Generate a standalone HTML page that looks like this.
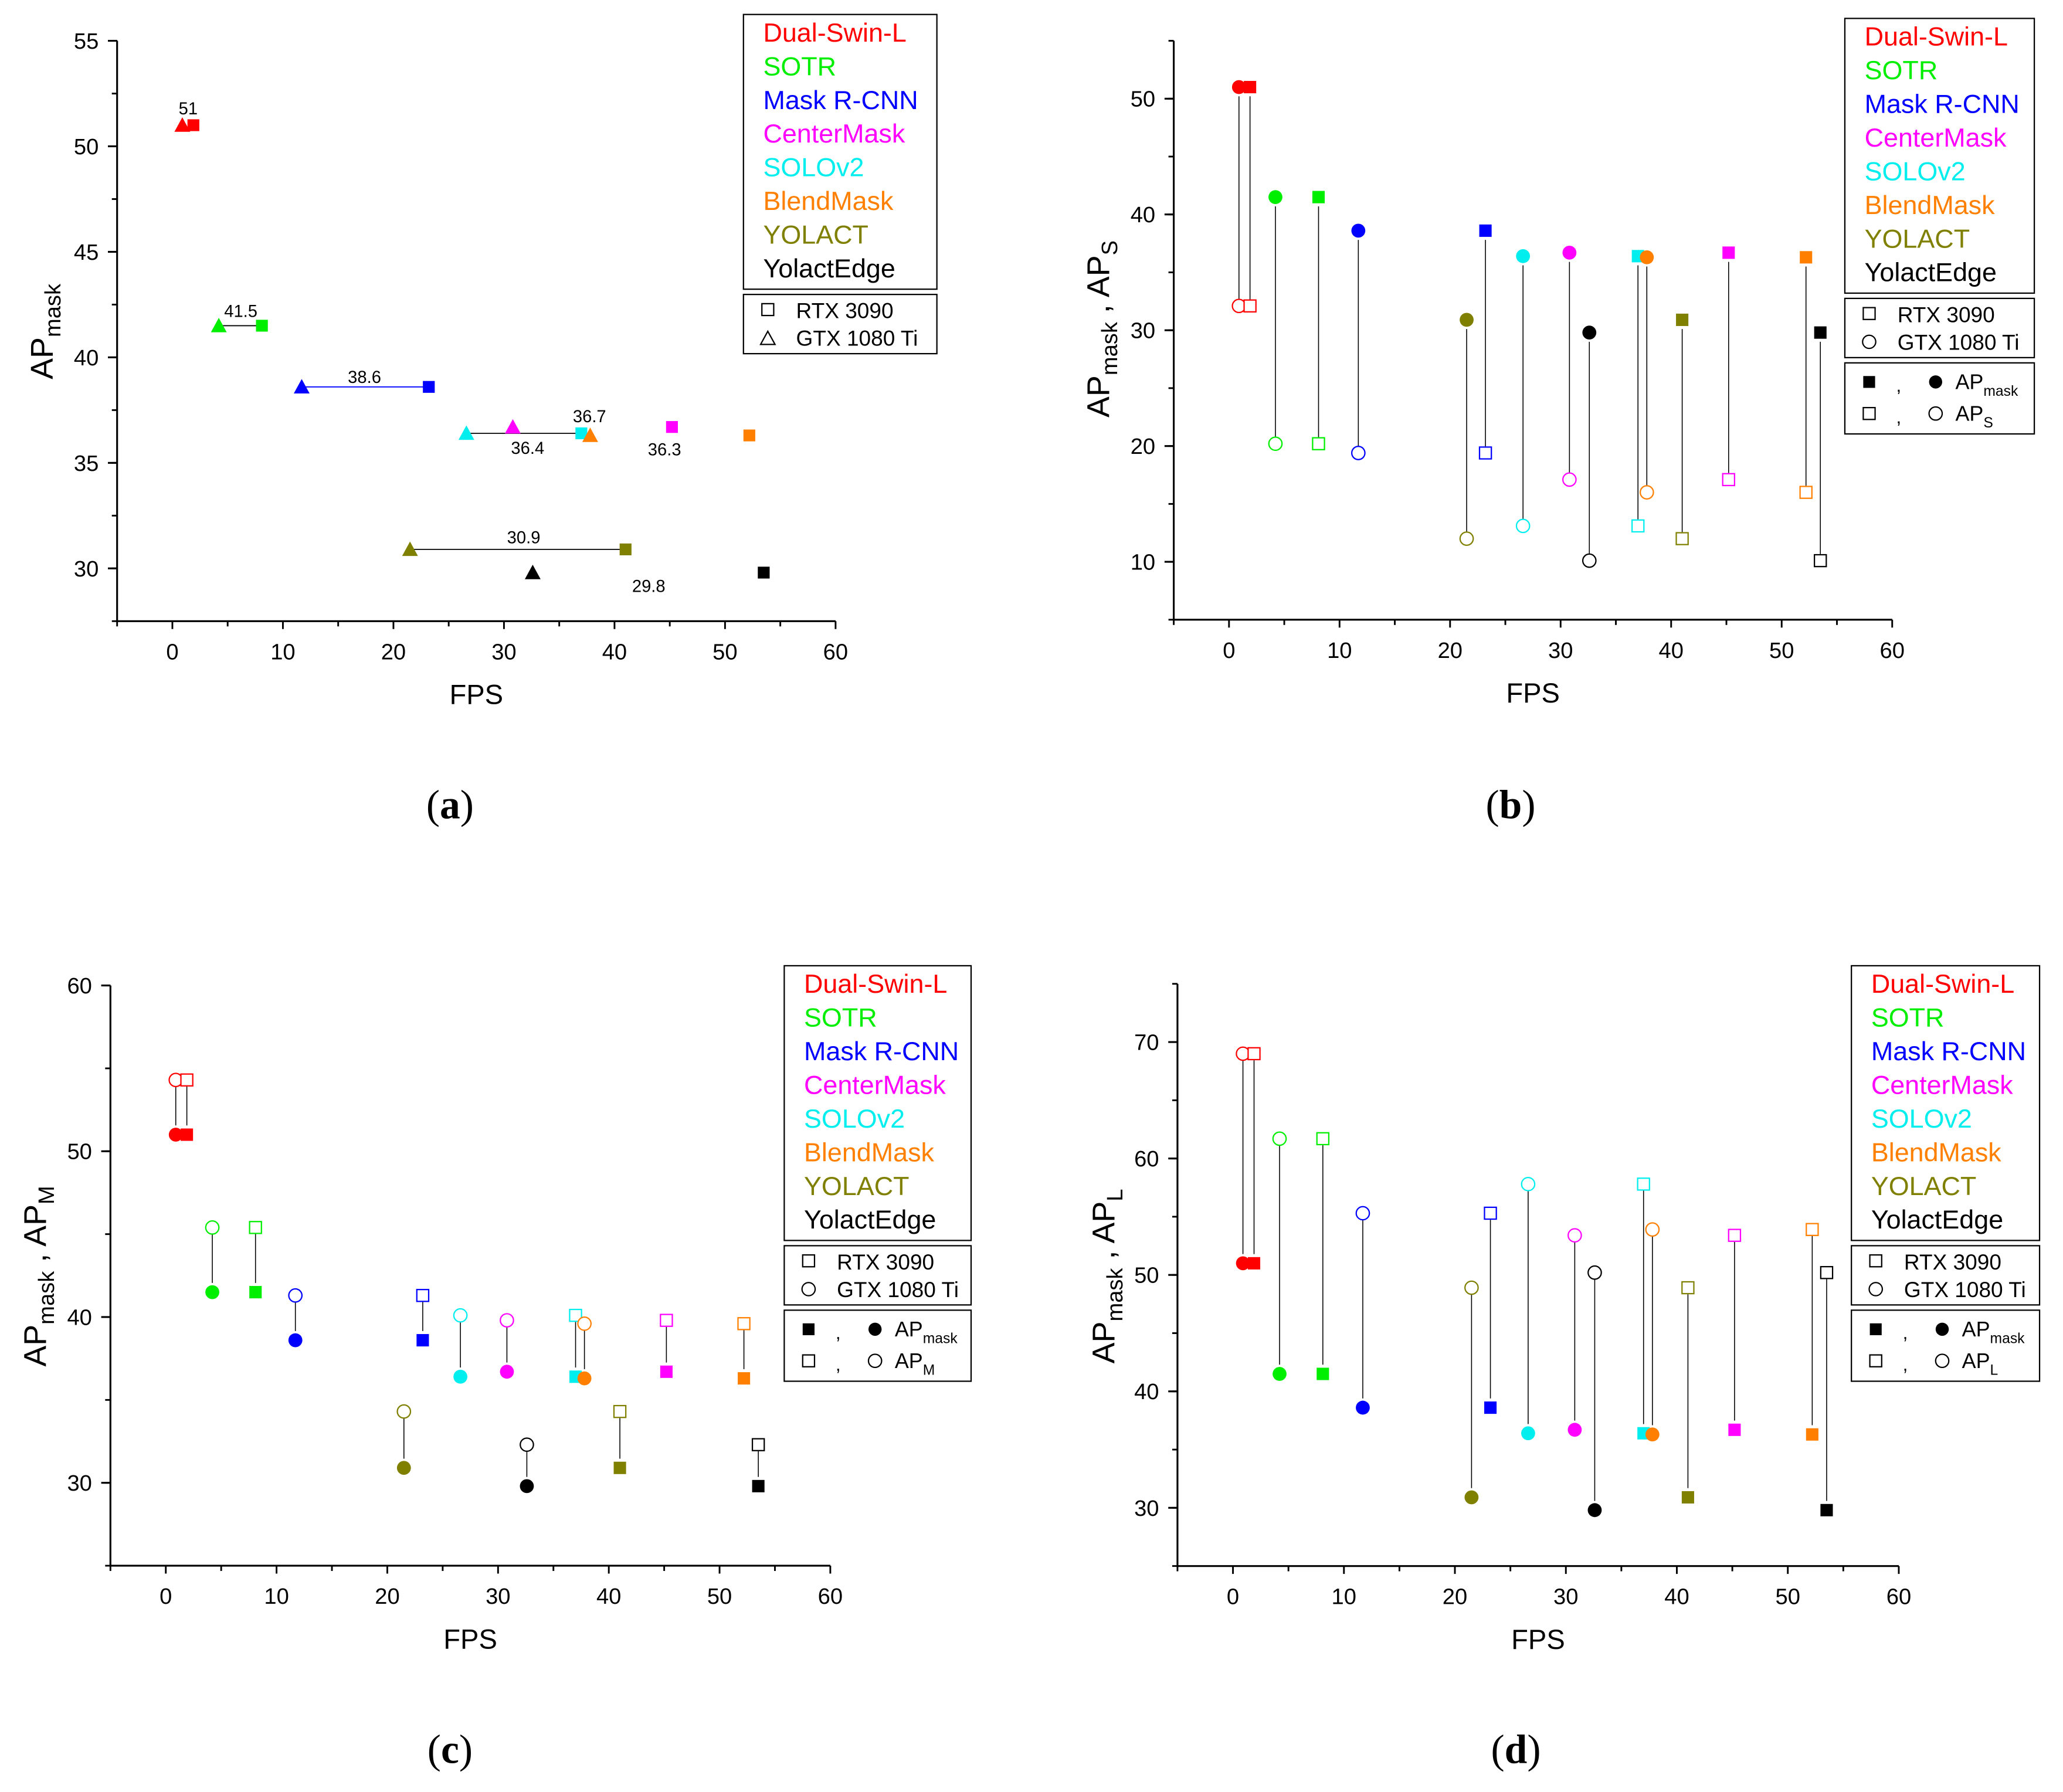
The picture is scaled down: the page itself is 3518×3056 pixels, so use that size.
<!DOCTYPE html>
<html><head><meta charset="utf-8"><style>
html,body{margin:0;padding:0;background:#fff}
svg{display:block}
text{font-family:"Liberation Sans",sans-serif}
text.cap{font-family:"Liberation Serif",serif}
</style></head><body>
<svg id="fig" xmlns="http://www.w3.org/2000/svg" width="3518" height="3056" viewBox="0 0 1567.8 1362" preserveAspectRatio="none"></svg>
<script>
const models = ["Dual-Swin-L","SOTR","Mask R-CNN","CenterMask","SOLOv2","BlendMask","YOLACT","YolactEdge"];
const colors = ["#ff0000","#00ee00","#0000ff","#ff00ff","#00eeee","#ff8000","#808000","#000000"];
const fps3090 = [1.9, 8.1, 23.2, 45.2, 37.0, 52.2, 41.0, 53.5];
const fps1080 = [0.9, 4.2, 11.7, 30.8, 26.6, 37.8, 21.5, 32.6];
const apMask = [51, 41.5, 38.6, 36.7, 36.4, 36.3, 30.9, 29.8];
const apS = [32.1, 20.2, 19.4, 17.1, 13.1, 16.0, 12.0, 10.1];
const apM = [54.3, 45.4, 41.3, 39.8, 40.1, 39.6, 34.3, 32.3];
const apL = [69.0, 61.7, 55.3, 53.4, 57.8, 53.9, 48.9, 50.2];
const xTicks = [0,10,20,30,40,50,60];
const yTicksA = [30,35,40,45,50,55];
const yTicksB = [10,20,30,40,50];
const yTicksC = [30,40,50,60];
const yTicksD = [30,40,50,60,70];
const connectedA = [1,2,4,6];

const NS="http://www.w3.org/2000/svg";
const svg=document.getElementById('fig');
function el(tag,attrs,parent,txt){const e=document.createElementNS(NS,tag);for(const k in attrs)e.setAttribute(k,attrs[k]);if(txt!==undefined)e.textContent=txt;(parent||svg).appendChild(e);return e;}

function axes(p){
  const g=el('g',{});
  
  
  const X=v=>p.x0+(v-0)*(p.x60-p.x0)/60;
  const Y=v=>p.yA+(v-p.vA)*(p.yB-p.yA)/(p.vB-p.vA);
  p.X=X;p.Y=Y;
  const left=X(-5),right=X(60),top=Y(p.ymax),bot=Y(p.ymin);
  const ax=el('path',{d:`M${left} ${top}V${bot}H${right}`,stroke:'#000','stroke-width':1.4,fill:'none'},g);
  
  for(let v=-5;v<=60;v+=5){const big=v%10===0;el('line',{x1:X(v),x2:X(v),y1:bot,y2:bot+(big?6:4),stroke:'#000','stroke-width':1.3},g);}
  xTicks.forEach(v=>{const t=el('text',{x:X(v),y:bot+29,'font-size':17,'text-anchor':'middle'},g,String(v));});
  for(let v=p.ymin;v<=p.ymax+0.001;v+=p.minor){el('line',{x1:left-4,x2:left,y1:Y(v),y2:Y(v),stroke:'#000','stroke-width':1.3},g);}
  p.yt.forEach(v=>{el('line',{x1:left-7,x2:left,y1:Y(v),y2:Y(v),stroke:'#000','stroke-width':1.4},g);const t=el('text',{x:left-14,y:Y(v)+6,'font-size':17,'text-anchor':'end'},g,String(v));});
  const xt=el('text',{x:X(27.5),y:bot+63,'font-size':21,'text-anchor':'middle'},g,'FPS');
  
  const yt=el('text',{x:0,y:0,'font-size':24,'text-anchor':'middle',transform:`translate(${p.ytx},${p.yty}) rotate(-90)`},g);
  
  el('tspan',{},yt,'AP');el('tspan',{'font-size':17,dy:6},yt,'mask');
  if(p.sub){el('tspan',{dy:-6},yt,' , AP');el('tspan',{'font-size':17,dy:6},yt,p.sub);}
  const cap=el('text',{x:p.capx,y:p.capy,'font-size':31,'text-anchor':'middle','class':'cap'},g);
  
  el('tspan',{},cap,'(');el('tspan',{'font-weight':'bold'},cap,p.letter);el('tspan',{},cap,')');
  return g;
}

function legend(x,y,w,rowH,extra){
  const g=el('g',{});
  
  el('rect',{x:x,y:y,width:w,height:rowH*8+4,fill:'#fff',stroke:'#000','stroke-width':1},g);
  models.forEach((m,i)=>{const t=el('text',{x:x+15,y:y+rowH*(i+1)-5,'font-size':20,fill:colors[i]},g,m);});
  const y2=y+rowH*8+8;
  el('rect',{x:x,y:y2,width:w,height:45,fill:'#fff',stroke:'#000','stroke-width':1},g);
  el('rect',{x:x+14,y:y2+7,width:9,height:9,fill:'none',stroke:'#000','stroke-width':1},g);
  const t1=el('text',{x:x+40,y:y2+18,'font-size':16.5},g,'RTX 3090');
  if(extra==='tri') el('path',{d:`M${x+13} ${y2+38}l5.5 -10l5.5 10z`,fill:'none',stroke:'#000','stroke-width':1},g);
  else el('circle',{cx:x+18.5,cy:y2+33,r:5,fill:'none',stroke:'#000','stroke-width':1},g);
  const t2=el('text',{x:x+40,y:y2+39,'font-size':16.5},g,'GTX 1080 Ti');
  if(extra!=='tri'){
    const y3=y2+49;
    el('rect',{x:x,y:y3,width:w,height:54,fill:'#fff',stroke:'#000','stroke-width':1},g);
    el('rect',{x:x+14,y:y3+10,width:9,height:9,fill:'#000'},g);
    el('text',{x:x+39,y:y3+22,'font-size':14},g,',');
    el('circle',{cx:x+69,cy:y3+14.5,r:5,fill:'#000'},g);
    const a=el('text',{x:x+84,y:y3+20,'font-size':16},g);
    el('tspan',{},a,'AP');el('tspan',{'font-size':11,dy:5},a,'mask');
    el('rect',{x:x+14,y:y3+34,width:9,height:9,fill:'none',stroke:'#000','stroke-width':1},g);
    el('text',{x:x+39,y:y3+46,'font-size':14},g,',');
    el('circle',{cx:x+69,cy:y3+38.5,r:5,fill:'none',stroke:'#000','stroke-width':1},g);
    const b=el('text',{x:x+84,y:y3+44,'font-size':16},g);
    el('tspan',{},b,'AP');el('tspan',{'font-size':11,dy:5},b,extra);
  }
}

// Panel A
const pa={name:'panel-a',x0:131,x60:635,yA:432,vA:30,yB:31,vB:55,ymin:27.5,ymax:55,minor:2.5,yt:yTicksA,ytx:40,yty:252,capx:342,capy:622,letter:'a'};
const ga=axes(pa);
connectedA.forEach(i=>{const l=el('line',{x1:pa.X(fps1080[i]),x2:pa.X(fps3090[i]),y1:pa.Y(apMask[i]),y2:pa.Y(apMask[i]),stroke:i===2?colors[i]:'#000','stroke-width':0.8},ga);});
models.forEach((m,i)=>{
  const tx=pa.X(fps1080[i]),ty=pa.Y(apMask[i]);
  const t=el('path',{d:`M${tx-6} ${ty+5}L${tx} ${ty-6}L${tx+6} ${ty+5}Z`,fill:colors[i]},ga);
  
  const sx=pa.X(fps3090[i]),sy=pa.Y(apMask[i]);
  const s=el('rect',{x:sx-4.5,y:sy-4.5,width:9,height:9,fill:colors[i]},ga);
  
});
const labelPos=[[143,87],[183,241],[277,291],[401,345],[448,321],[505,346],[398,413],[493,450]];
const labelIdx=[0,1,2,4,3,5,6,7];
labelIdx.forEach((mi,k)=>{const t=el('text',{x:labelPos[k][0],y:labelPos[k][1],'font-size':13,'text-anchor':'middle'},ga,String(apMask[mi]));});
legend(565,11,147,25.6,'tri');

function stemPanel(p,vals,sub,lx,ly){
  p.sub=sub;
  const g=axes(p);
  models.forEach((m,i)=>{
    [[fps1080[i],'c'],[fps3090[i],'s']].forEach(([f,k])=>{
      const x=p.X(f),ym=p.Y(apMask[i]),yv=p.Y(vals[i]);
      const dir=yv>ym?1:-1;
      const ln=el('line',{x1:x,x2:x,y1:ym+dir*7,y2:yv-dir*5,stroke:'#000','stroke-width':0.7},g);
      
      let a,b;
      if(k==='c'){a=el('circle',{cx:x,cy:ym,r:5.3,fill:colors[i]},g);b=el('circle',{cx:x,cy:yv,r:5,fill:'#fff',stroke:colors[i],'stroke-width':1},g);}
      else{a=el('rect',{x:x-4.7,y:ym-4.7,width:9.4,height:9.4,fill:colors[i]},g);b=el('rect',{x:x-4.5,y:yv-4.5,width:9,height:9,fill:'#fff',stroke:colors[i],'stroke-width':1},g);}
      
      
    });
  });
  legend(lx,ly,p.lw,25.6,sub);
}
stemPanel({name:'panel-b',x0:934,x60:1438,yA:427,vA:10,yB:75,vB:50,ymin:5,ymax:55,minor:5,yt:yTicksB,ytx:843,yty:250,capx:1148,capy:622,letter:'b',lw:144},apS,'S',1402,14);
stemPanel({name:'panel-c',x0:126,x60:631,yA:1127,vA:30,yB:875,vB:50,ymin:25,ymax:60,minor:5,yt:yTicksC,ytx:35,yty:970,capx:342,capy:1340,letter:'c',lw:142},apM,'M',596,734);
stemPanel({name:'panel-d',x0:937,x60:1443,yA:1146,vA:30,yB:969,vB:50,ymin:25,ymax:75,minor:5,yt:yTicksD,ytx:847,yty:970,capx:1152,capy:1340,letter:'d',lw:143},apL,'L',1407,734);
</script>
</body></html>
